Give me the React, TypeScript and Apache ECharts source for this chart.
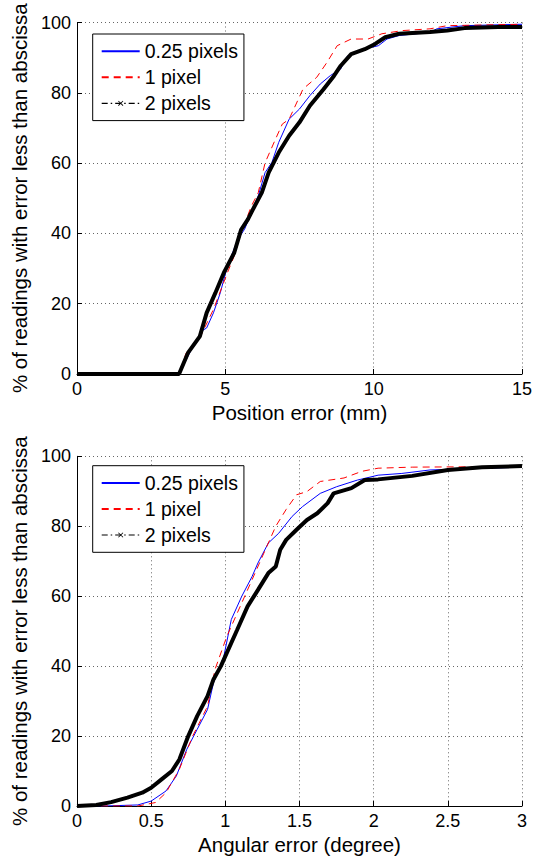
import React, { useEffect, useRef } from "react";
import * as echarts from "echarts";

const FONT = "'Liberation Sans', Arial, Helvetica, sans-serif";

const seriesNames = ["0.25 pixels", "1 pixel", "2 pixels"];
const yAxisTitle = "% of readings with error less than abscissa";
const posAxisTitle = "Position error (mm)";
const angAxisTitle = "Angular error (degree)";

// Position error CDF (mm, %)
const posBlue: number[][] = [
  [0, 0], [3.44, 0], [3.91, 7.9], [4.2, 12.2], [4.37, 13.1], [4.6, 17.4], [4.83, 23.1],
  [5.07, 30.7], [5.42, 38.3], [5.65, 41.2], [5.88, 46], [6.11, 50.7], [6.34, 57.3],
  [6.57, 60.2], [6.8, 65.9], [7.15, 72.5], [7.5, 75.4], [7.85, 79.2], [8.2, 82.5],
  [8.54, 84.9], [8.89, 86.8], [9.12, 90.5], [9.7, 92.5], [10.16, 93.4], [10.45, 95.3],
  [10.86, 96.3], [11.9, 97.2], [12.13, 98.2], [13.06, 99.1], [15, 99.5],
];
const posRed: number[][] = [
  [0, 0], [3.44, 0], [3.68, 6], [4.14, 10.3], [4.6, 18.4], [5.07, 28.8], [5.3, 33.6],
  [5.53, 40.2], [5.88, 47.8], [6.11, 51.6], [6.34, 60.1], [6.69, 66.8], [6.92, 71.1],
  [7.15, 72.5], [7.62, 81.1], [8.08, 84.4], [8.43, 88.7], [8.77, 93.4], [9.24, 95.3],
  [9.81, 95.3], [10.28, 96.8], [10.97, 97.7], [11.9, 98.2], [12.48, 99.1], [15, 99.5],
];
const posBlack: number[][] = [
  [0, 0], [3.44, 0], [3.74, 6], [4.14, 10.7], [4.37, 17.4], [4.66, 23], [4.95, 28.8],
  [5.3, 34.5], [5.53, 41], [5.76, 44], [5.99, 47.8], [6.23, 51.6], [6.46, 57.3],
  [6.8, 63], [7.15, 67.8], [7.5, 71.6], [7.85, 76.3], [8.31, 81], [8.66, 84.8],
  [8.89, 87.7], [9.24, 91], [9.7, 92.4], [10.05, 93.9], [10.39, 95.8], [10.86, 96.8],
  [11.9, 97.3], [12.48, 97.7], [13.06, 98.4], [14.2, 98.7], [15, 98.7],
];

// Angular error CDF (degree, %)
const angBlue: number[][] = [
  [0, 0], [0.18, 0], [0.41, 0.3], [0.5, 1.4], [0.6, 4.3], [0.67, 8.6], [0.74, 16.2],
  [0.81, 21.9], [0.88, 27.6], [0.92, 35.2], [0.99, 42.8], [1.04, 53.3], [1.11, 59.9],
  [1.18, 65.6], [1.22, 69.5], [1.29, 75.2], [1.36, 78], [1.45, 82.8], [1.52, 85.6],
  [1.64, 89.4], [1.75, 91.3], [1.89, 93.2], [2.03, 94.6], [2.19, 95.1], [2.38, 96.1],
  [3, 96.9],
];
const angRed: number[][] = [
  [0, 0], [0.41, 0], [0.53, 1], [0.6, 3.8], [0.69, 10.5], [0.78, 20], [0.88, 28.5],
  [0.93, 39], [1.01, 48.5], [1.11, 58], [1.2, 66.6], [1.27, 73.3], [1.34, 80],
  [1.41, 84.8], [1.48, 89], [1.55, 89.9], [1.64, 92.8], [1.8, 93.8], [1.92, 95.7],
  [2.03, 96.6], [2.26, 96.9], [3, 97.1],
];
const angBlack: number[][] = [
  [0, 0], [0.13, 0.3], [0.23, 1.1], [0.34, 2.4], [0.44, 3.8], [0.5, 5.2], [0.57, 7.6],
  [0.64, 10], [0.69, 13.3], [0.75, 20], [0.81, 25.7], [0.88, 31.4], [0.92, 36.2],
  [0.97, 40], [1.01, 43.8], [1.08, 50.4], [1.15, 57.1], [1.22, 61.8], [1.29, 66.6],
  [1.34, 68.5], [1.37, 73.3], [1.41, 76.1], [1.48, 79], [1.55, 81.8], [1.62, 83.7],
  [1.69, 86.6], [1.73, 89.4], [1.85, 90.9], [1.94, 93.2], [2.03, 93.4], [2.26, 94.4],
  [2.5, 96.1], [2.73, 96.9], [3, 97.2],
];

// legend symbols: invisible corner specks (line only) and a small "x" marker
const NO_MARK = "path://M0,0L0.01,0L0.01,0.01ZM30,30L29.99,30L29.99,29.99Z";
const X_MARK =
  "path://M0,0L0.01,0L0.01,0.01ZM30,30L29.99,30L29.99,29.99ZM8,9.5L9.5,8L22,20.5L20.5,22ZM20.5,8L22,9.5L9.5,22L8,20.5Z";

export default function App() {
  const ref = useRef<HTMLDivElement>(null);
  useEffect(() => {
    if (!ref.current) return;
    const chart = echarts.init(ref.current, null, { renderer: "svg" });
    const gridLine = { show: true, lineStyle: { color: "#666", type: [1, 3] as any, width: 1 } };
    const axisLabel = { color: "#000", fontSize: 18, fontFamily: FONT, margin: 6, showMinLabel: true, showMaxLabel: true };
    const axisLine = { show: true, onZero: false, lineStyle: { color: "#000", width: 1 } };
    const axisTick = { show: true, inside: true, length: 5, lineStyle: { color: "#000" } };
    const nameStyle = { color: "#000", fontSize: 20.5, fontFamily: FONT };
    const yNameStyle = { color: "#000", fontSize: 20.5, fontFamily: FONT };

    const legendBase = (top: number) => ({
      orient: "vertical",
      left: 92.7,
      top,
      itemWidth: 38,
      itemHeight: 14,
      itemGap: 6,
      padding: [7.3, 6, 7.3, 8],
      backgroundColor: "#fff",
      borderColor: "#000",
      borderWidth: 1,
      borderRadius: 0,
      textStyle: { color: "#000", fontSize: 19.5, fontFamily: FONT, lineHeight: 19 },
      selectedMode: false,
      data: [
        { name: seriesNames[0] },
        { name: seriesNames[1] },
        { name: seriesNames[2], lineStyle: { width: 1.2, color: "#000", type: [6, 3, 1.5, 3] } },
      ],
    });

    const mk = (name: string, data: number[][], idx: number, kind: number) => {
      const base: any = {
        type: "line",
        name,
        data,
        xAxisIndex: idx,
        yAxisIndex: idx,
        symbol: kind === 2 ? X_MARK : NO_MARK,
        symbolSize: 4,
        showSymbol: false,
        silent: true,
      };
      if (kind === 0) base.lineStyle = { color: "#0000ff", width: 1 };
      if (kind === 1) base.lineStyle = { color: "#ff0000", width: 1, type: [7, 5] };
      if (kind === 2) base.lineStyle = { color: "#000", width: 4 };
      base.itemStyle = { color: kind === 0 ? "#0000ff" : kind === 1 ? "#ff0000" : "#000" };
      return base;
    };

    chart.setOption({
      animation: false,
      backgroundColor: "#fff",
      textStyle: { fontFamily: FONT },
      legend: [legendBase(34), legendBase(465.7)],
      grid: [
        { left: 77, top: 22.5, width: 445, height: 351.5 },
        { left: 77, top: 456.3, width: 445, height: 351.5 },
      ],
      xAxis: [
        {
          type: "value", gridIndex: 0, min: 0, max: 15, interval: 5,
          name: posAxisTitle, nameLocation: "middle", nameGap: 28, nameTextStyle: nameStyle,
          axisLine, axisTick, axisLabel, splitLine: gridLine,
        },
        {
          type: "value", gridIndex: 1, min: 0, max: 3, interval: 0.5,
          name: angAxisTitle, nameLocation: "middle", nameGap: 28, nameTextStyle: nameStyle,
          axisLine, axisTick, axisLabel, splitLine: gridLine,
        },
      ],
      yAxis: [0, 1].map((i) => ({
        type: "value", gridIndex: i, min: 0, max: 100, interval: 20,
        name: yAxisTitle, nameLocation: "middle", nameRotate: 90, nameGap: 46, nameTextStyle: yNameStyle,
        axisLine, axisTick, axisLabel, splitLine: gridLine,
      })),
      series: [
        mk(seriesNames[0], posBlue, 0, 0),
        mk(seriesNames[1], posRed, 0, 1),
        mk(seriesNames[2], posBlack, 0, 2),
        mk(seriesNames[0], angBlue, 1, 0),
        mk(seriesNames[1], angRed, 1, 1),
        mk(seriesNames[2], angBlack, 1, 2),
      ],
    });
    return () => chart.dispose();
  }, []);
  return (
    <div
      ref={ref}
      style={{ position: "fixed", left: 0, top: 0, width: 541, height: 856, background: "#fff" }}
    />
  );
}
